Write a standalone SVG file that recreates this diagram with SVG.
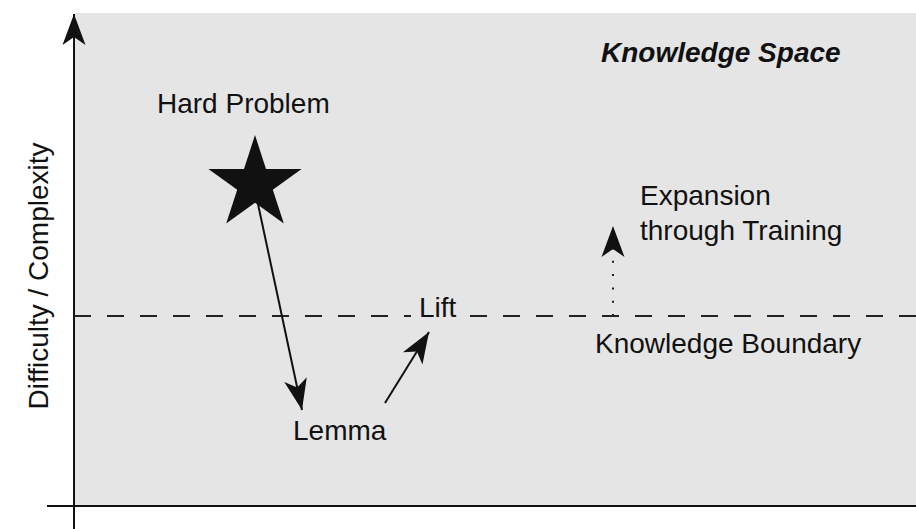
<svg xmlns="http://www.w3.org/2000/svg" width="916" height="529" viewBox="0 0 916 529">
  <style>
    .lbl { font-family: "Liberation Sans", Arial, Helvetica, sans-serif; font-size: 28px; fill: #111; }
    .title { font-weight: bold; font-style: italic; }
    .axis { stroke: #111; stroke-width: 2; fill: none; }
    .conn { stroke: #111; stroke-width: 2; fill: none; }
    .boundary { stroke: #222; stroke-width: 2; stroke-dasharray: 17 16; fill: none; }
    .dotted { stroke: #222; stroke-width: 2; stroke-dasharray: 2 11.3; fill: none; }
  </style>
  <defs>
    <marker id="arrow" markerUnits="userSpaceOnUse" viewBox="-32 -13 34 26" refX="0" refY="0" markerWidth="34" markerHeight="26" orient="auto" overflow="visible">
      <path d="M0,0 L-31,-11.5 L-23,0 L-31,11.5 Z" fill="#111"/>
    </marker>
  </defs>

  <rect width="916" height="529" fill="#ffffff"/>

  <!-- knowledge space area -->
  <g id="space">
    <rect x="74" y="13" width="842" height="493" fill="#e5e5e5"/>
    <text class="lbl title" x="601" y="62">Knowledge Space</text>
  </g>

  <!-- axes -->
  <g id="axes">
    <line class="axis" x1="74" y1="529" x2="74" y2="14" marker-end="url(#arrow)"/>
    <line class="axis" x1="47" y1="506" x2="916" y2="506"/>
    <text class="lbl" transform="translate(48,276) rotate(-90)" text-anchor="middle">Difficulty / Complexity</text>
  </g>

  <!-- knowledge boundary -->
  <g id="boundary">
    <line class="boundary" x1="74" y1="316" x2="916" y2="316"/>
    <text class="lbl" x="595" y="353">Knowledge Boundary</text>
  </g>

  <!-- connectors -->
  <g id="connectors">
    <line class="conn" x1="255" y1="190" x2="302" y2="410" marker-end="url(#arrow)"/>
    <line class="conn" x1="385" y1="403" x2="429" y2="332" marker-end="url(#arrow)"/>
    <line class="dotted" x1="613" y1="316" x2="613" y2="226" marker-end="url(#arrow)"/>
  </g>

  <g id="hard-problem">
    <polygon fill="#111" points="255,135 266,168.9 301.6,168.9 272.8,189.8 283.8,223.6 255,202.7 226.2,223.6 237.2,189.8 208.4,168.9 244,168.9"/>
    <text class="lbl" x="157" y="113">Hard Problem</text>
  </g>

  <g id="lemma">
    <text class="lbl" x="293" y="440">Lemma</text>
  </g>

  <g id="lift">
    <rect x="411" y="298" width="52" height="26" fill="#e5e5e5"/>
    <text class="lbl" x="419" y="317">Lift</text>
  </g>

  <g id="expansion">
    <text class="lbl" x="640" y="205">Expansion</text>
    <text class="lbl" x="640" y="240">through Training</text>
  </g>
</svg>
